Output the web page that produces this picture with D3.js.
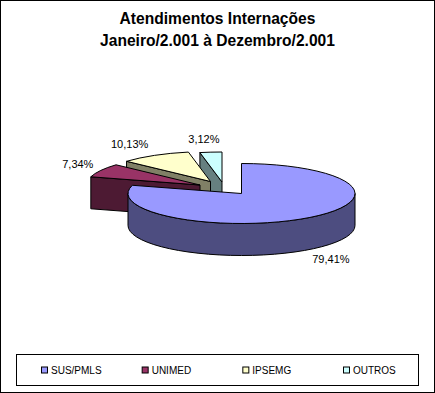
<!DOCTYPE html>
<html lang="en">

<head>
  <meta charset="UTF-8">
  <title>Atendimentos Internações</title>
  <script src="https://d3js.org/d3.v7.min.js"></script>
  <style>
    html, body { margin: 0; padding: 0; background: #fff; }
    svg { display: block; }
    text { font-family: "Liberation Sans", Arial, sans-serif; fill: #000; }
    .title { font-size: 15.6px; font-weight: bold; text-anchor: middle; }
    .label { font-size: 11px; text-anchor: middle; }
    .legend-text { font-size: 10px; }
    .shape { stroke: #000; stroke-width: 1; stroke-linejoin: miter; }
  </style>
</head>

<body>
  <script>
    const categories = ['SUS/PMLS', 'UNIMED', 'IPSEMG', 'OUTROS'];
    const shares = [79.41, 7.34, 10.13, 3.12];
    const shareLabels = ['79,41%', '7,34%', '10,13%', '3,12%'];
    const titleLines = ['Atendimentos Internações', 'Janeiro/2.001 à Dezembro/2.001'];
    const topColors = ['#9999FF', '#993366', '#FFFFCC', '#CCFFFF'];
    const wallColors = ['#4D4D80', '#4D1A33', '#808066', '#668080'];

    const width = 435;
    const height = 393;
    const cx = 241.5, cy = 193.5, rx = 113.5, ry = 30, depth = 32;
    // how far each slice is pulled out of the pie
    const explode = [[0, 0], [-41.5, -8.5], [-31, -12], [-19.5, -11.5]];
    // label nudge from the rim point at the middle of the slice
    const labelNudge = [[21, 46], [-23, -2], [-25, -7], [-7, -9]];

    const colorTop = d3.scaleOrdinal().domain(categories).range(topColors);
    const colorWall = d3.scaleOrdinal().domain(categories).range(wallColors);

    const svg = d3.select('body').append('svg')
      .attr('width', width)
      .attr('height', height);

    // outer frame
    svg.append('rect')
      .attr('x', 0.5).attr('y', 0.5)
      .attr('width', width - 1).attr('height', height - 1)
      .attr('fill', '#fff').attr('stroke', '#000');

    svg.selectAll('text.title')
      .data(titleLines)
      .join('text')
      .attr('class', 'title')
      .attr('x', 217.5)
      .attr('y', (d, i) => 24 + i * 22)
      .text(d => d);

    const slices = d3.pie().sort(null).value(d => d)(shares)
      .map((s, i) => ({ ...s, name: categories[i], index: i, dx: explode[i][0], dy: explode[i][1] }));

    // angle (clockwise from 12 o'clock) to the flattened pie
    const rimX = (s, a) => cx + s.dx + rx * Math.sin(a);
    const rimY = (s, a) => cy + s.dy - ry * Math.cos(a);

    function topPath(s) {
      const large = s.endAngle - s.startAngle > Math.PI ? 1 : 0;
      const p = `M${cx + s.dx},${cy + s.dy}L${rimX(s, s.startAngle)},${rimY(s, s.startAngle)}`;
      return `${p}A${rx},${ry} 0 ${large} 1 ${rimX(s, s.endAngle)},${rimY(s, s.endAngle)}Z`;
    }

    // flat cut face at the start of a slice, seen from the front
    function cutPath(s) {
      const x0 = cx + s.dx, y0 = cy + s.dy;
      const x1 = rimX(s, s.startAngle), y1 = rimY(s, s.startAngle);
      return `M${x0},${y0}L${x1},${y1}L${x1},${y1 + depth}L${x0},${y0 + depth}Z`;
    }

    // curved outer wall, only the front half of the rim shows
    function wallPath(s) {
      const a0 = Math.max(s.startAngle, Math.PI / 2);
      const a1 = Math.min(s.endAngle, Math.PI * 1.5);
      const x0 = rimX(s, a0), y0 = rimY(s, a0), x1 = rimX(s, a1), y1 = rimY(s, a1);
      return `M${x0},${y0}A${rx},${ry} 0 0 1 ${x1},${y1}L${x1},${y1 + depth}A${rx},${ry} 0 0 0 ${x0},${y0 + depth}Z`;
    }

    // back slices first, big blue one goes over everything
    const drawOrder = [3, 2, 1, 0].map(i => slices[i]);
    const pie = svg.append('g').attr('class', 'pie');

    drawOrder.forEach(s => {
      const g = pie.append('g').datum(s);
      if (s.index === 0) {
        g.append('path').attr('class', 'shape').attr('d', wallPath)
          .attr('fill', colorWall(s.name));
      } else {
        g.append('path').attr('class', 'shape').attr('d', cutPath)
          .attr('fill', colorWall(s.name));
      }
      g.append('path').attr('class', 'shape').attr('d', topPath)
        .attr('fill', colorTop(s.name));
    });

    svg.selectAll('text.label')
      .data(slices)
      .join('text')
      .attr('class', 'label')
      .attr('x', d => rimX(d, (d.startAngle + d.endAngle) / 2) + labelNudge[d.index][0])
      .attr('y', d => rimY(d, (d.startAngle + d.endAngle) / 2) + labelNudge[d.index][1])
      .text(d => shareLabels[d.index]);

    // legend
    const legendX = d3.scalePoint().domain(categories).range([41.5, 343.5]);
    svg.append('rect')
      .attr('x', 16.5).attr('y', 354.5)
      .attr('width', 402).attr('height', 31)
      .attr('fill', '#fff').attr('stroke', '#000');

    const items = svg.selectAll('g.legend-item')
      .data(categories)
      .join('g')
      .attr('class', 'legend-item')
      .attr('transform', d => `translate(${legendX(d)},367)`);
    items.append('rect')
      .attr('width', 6).attr('height', 6)
      .attr('fill', d => colorTop(d))
      .attr('stroke', '#000');
    items.append('text')
      .attr('class', 'legend-text')
      .attr('x', 9.5)
      .attr('y', 6.5)
      .text(d => d);
  </script>
</body>

</html>
